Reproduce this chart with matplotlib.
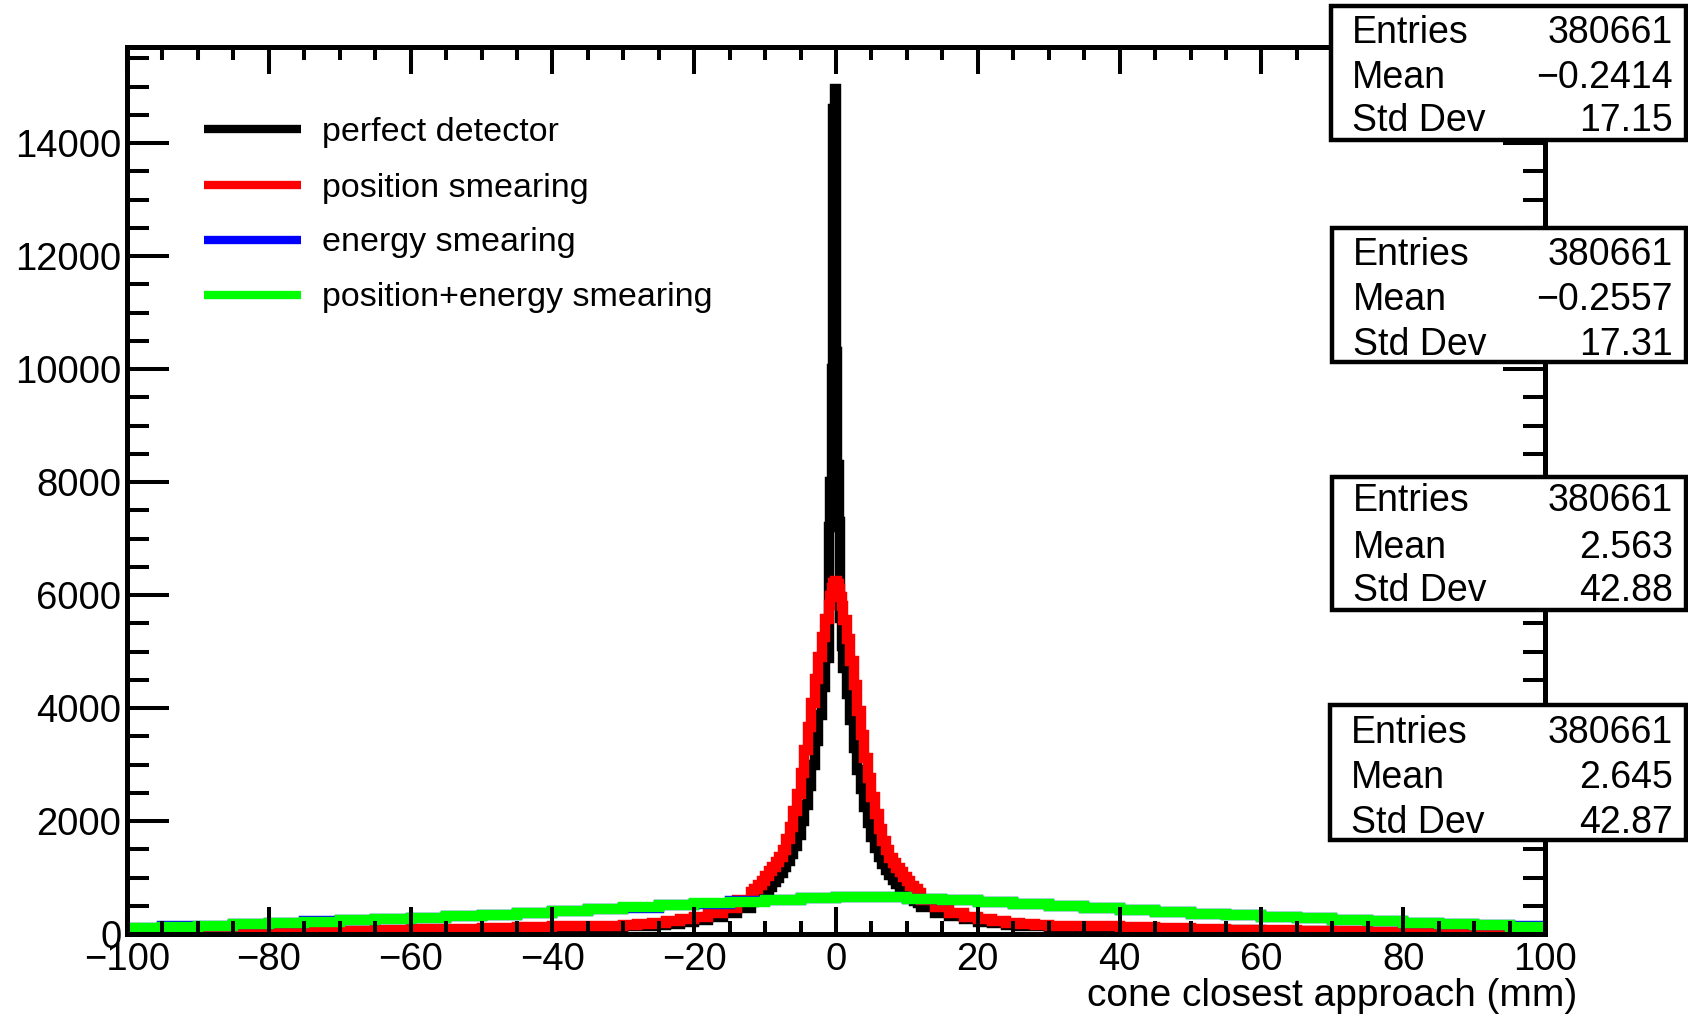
import matplotlib
matplotlib.use("Agg")
import matplotlib.pyplot as plt
import numpy as np
from matplotlib.patches import Rectangle
from matplotlib.lines import Line2D
from matplotlib.ticker import MultipleLocator

plt.rcParams['font.family'] = ['Liberation Sans', 'DejaVu Sans']
plt.rcParams['axes.unicode_minus'] = True

# ---------------- data ----------------
# bin edges for the narrow (peaked) histograms: coarse tails, fine core
peak_edges = np.concatenate([
    np.arange(-100, -30, 5.0),
    np.arange(-30, -12, 2.0),
    np.arange(-12, -1, 0.5),
    np.arange(-1, 1, 0.2),
    np.arange(1, 12, 0.5),
    np.arange(12, 30, 2.0),
    np.arange(30, 100.001, 5.0),
])
# bin edges for the broad histograms
broad_edges = np.arange(-100, 100.001, 5.0)

perfect_detector = [
    # -100 .. -30 (5 mm)
    17, 22, 27, 32, 38, 45, 52, 60, 69, 79, 90, 102, 115, 127,
    # -30 .. -12 (2 mm)
    137, 149, 164, 185, 214, 252, 302, 370, 462,
    # -12 .. -1 (0.5 mm)
    560, 600, 645, 695, 760, 835, 915, 1000, 1085, 1180, 1290,
    1410, 1560, 1760, 2000, 2280, 2620, 3000, 3420, 3880, 4380, 4880,
    # -1 .. 1 (0.2 mm)
    7200, 8000, 10000, 14600, 14950, 10300, 8300, 7300, 5600, 5100,
    # 1 .. 12 (0.5 mm)
    4700, 4250, 3780, 3300, 2900, 2560, 2250, 1960, 1720, 1520, 1360,
    1240, 1140, 1050, 960, 880, 810, 750, 690, 640, 590, 545,
    # 12 .. 30 (2 mm)
    470, 380, 310, 258, 218, 188, 166, 150, 138,
    # 30 .. 100 (5 mm)
    127, 114, 101, 89, 78, 68, 59, 51, 44, 38, 32, 27, 23, 18,
]

position_smearing = [
    22, 27, 32, 38, 45, 52, 60, 70, 80, 92, 105, 119, 134, 149,
    162, 177, 196, 222, 258, 306, 372, 462, 600,
    735, 795, 865, 945, 1030, 1110, 1190, 1270, 1360, 1490, 1680,
    1900, 2170, 2480, 2850, 3250, 3660, 4090, 4510, 4900, 5260, 5580,
    5820, 5990, 6120, 6210, 6250, 6240, 6190, 6100, 5970, 5800,
    5560, 5220, 4830, 4400, 3950, 3520, 3120, 2760, 2420, 2120, 1860,
    1650, 1480, 1350, 1250, 1170, 1090, 1010, 930, 855, 790, 730,
    600, 470, 375, 305, 258, 222, 195, 176, 161,
    147, 133, 118, 103, 90, 78, 68, 59, 51, 44, 37, 31, 26, 21,
]

energy_smearing = [
    106, 133, 147, 176, 192, 224, 241, 272, 288, 322, 341, 379, 401, 441,
    466, 509, 536, 579, 606, 645, 651, 654, 621, 604, 561, 534, 491, 462,
    416, 389, 351, 332, 296, 279, 246, 229, 196, 182, 151, 136,
]

position_energy_smearing = [
    110, 130, 150, 172, 195, 220, 245, 268, 292, 318, 345, 375, 405, 437,
    470, 505, 540, 575, 610, 640, 655, 650, 625, 600, 565, 530, 495, 458,
    420, 385, 355, 328, 300, 275, 250, 225, 200, 178, 155, 132,
]

legend_labels = ["perfect detector", "position smearing", "energy smearing",
                 "position+energy smearing"]
colors = ["#000000", "#ff0000", "#0000ff", "#00ff00"]

stat_entries = ["380661", "380661", "380661", "380661"]
stat_means = ["\u22120.2414", "\u22120.2557", "2.563", "2.645"]
stat_stds = ["17.15", "17.31", "42.88", "42.87"]

x_label = "cone closest approach (mm)"

# ---------------- figure ----------------
W, H = 1688, 1016
fig = plt.figure(figsize=(W / 100, H / 100), dpi=100)


def fx(px):
    return px / W


def fy(py):
    return 1 - py / H


ax = fig.add_axes([fx(127), fy(934), fx(1545) - fx(127), fy(47) - fy(934)])

series = [
    (perfect_detector, peak_edges),
    (position_smearing, peak_edges),
    (energy_smearing, broad_edges),
    (position_energy_smearing, broad_edges),
]
for (vals, edges), c in zip(series, colors):
    st = ax.stairs(vals, edges, color=c, linewidth=7.5, baseline=None)
    st.set_joinstyle('miter')

ax.set_xlim(-100, 100)
ax.set_ylim(0, 15700)

ax.xaxis.set_major_locator(MultipleLocator(20))
ax.xaxis.set_minor_locator(MultipleLocator(5))
ax.yaxis.set_major_locator(MultipleLocator(2000))
ax.yaxis.set_minor_locator(MultipleLocator(500))

ax.tick_params(which='both', direction='in', top=True, right=True, width=2.9,
               color='black')
ax.tick_params(axis='y', which='major', length=30, labelsize=27.5, pad=4)
ax.tick_params(axis='y', which='minor', length=15.5)
ax.tick_params(axis='x', which='major', length=19.5, labelsize=27.5, pad=6)
ax.tick_params(axis='x', which='minor', length=9.5)
for sp in ax.spines.values():
    sp.set_linewidth(3.6)

fig.text(fx(1577), fy(1006), x_label, ha='right', va='baseline', fontsize=28)

# legend (no frame)
leg_rows = [129, 185, 240, 295]
for lab, c, ry in zip(legend_labels, colors, leg_rows):
    fig.add_artist(Line2D([fx(204), fx(301)], [fy(ry), fy(ry)],
                          transform=fig.transFigure, color=c, linewidth=6,
                          solid_capstyle='butt'))
    fig.text(fx(322), fy(ry + 3), lab, ha='left', va='center', fontsize=24.5)

# statistics boxes
boxes = [(1331, 6, 1686, 140), (1332, 228, 1686, 362),
         (1332, 477, 1686, 610), (1330, 705, 1686, 840)]
baselines = [(43, 88, 131), (265, 310, 355), (511, 558, 601), (743, 788, 833)]
for (x0, y0, x1, y1), bl, ent, mn, sd in zip(boxes, baselines, stat_entries,
                                              stat_means, stat_stds):
    fig.add_artist(Rectangle((fx(x0), fy(y1)), fx(x1) - fx(x0), fy(y0) - fy(y1),
                             transform=fig.transFigure, facecolor='white',
                             edgecolor='black', linewidth=3.2, zorder=5))
    for name, val, by in zip(["Entries", "Mean", "Std Dev"], [ent, mn, sd], bl):
        fig.text(fx(x0 + 21), fy(by), name, ha='left', va='baseline',
                 fontsize=27, zorder=6)
        fig.text(fx(1673), fy(by), val, ha='right', va='baseline',
                 fontsize=27, zorder=6)

fig.savefig("out.png", dpi=100)
